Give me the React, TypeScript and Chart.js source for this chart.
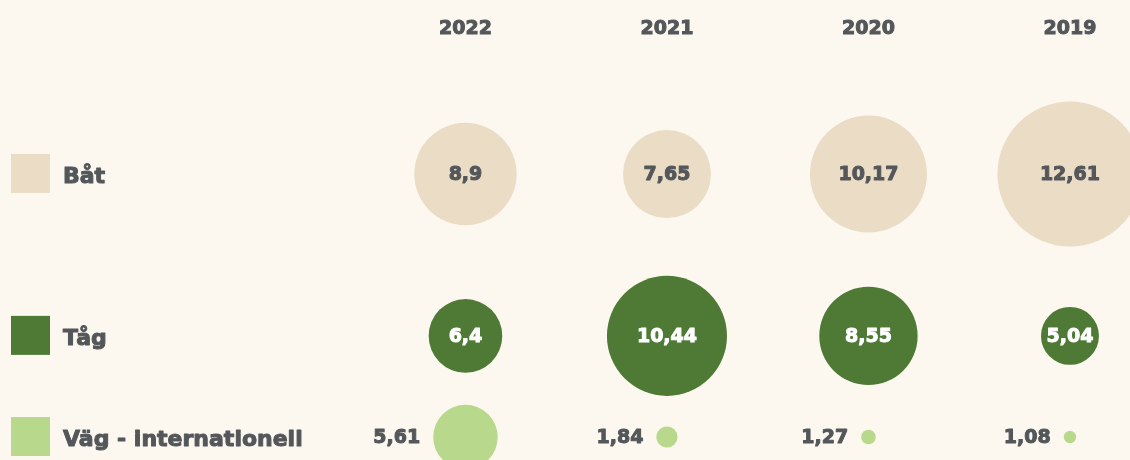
import React, { useEffect, useRef } from 'react';
import { Chart, registerables } from 'chart.js';

Chart.register(...registerables);

// ---- data ----
const years = ['2022', '2021', '2020', '2019'];
const rowLabels = ['Båt', 'Tåg', 'Väg - internationell'];
const batValues = [8.9, 7.65, 10.17, 12.61];
const tagValues = [6.4, 10.44, 8.55, 5.04];
const vagValues = [5.61, 1.84, 1.27, 1.08];

// ---- layout / style ----
const ROW_SLOTS = [0, 1.6, 2.6];
const RADIUS_PER_UNIT = 5.75;
const BG = '#fcf8f0';
const TEXT = '#54575a';
const COLORS = ['#eadcc5', '#4e7a35', '#b8d98b'];
const LABEL_COLORS = [TEXT, '#ffffff', TEXT];
const FONT_FAMILY = '"DejaVu Sans", sans-serif';

const fmt = (v: number) => String(v).replace('.', ',');

const bgPlugin = {
  id: 'bg',
  beforeDraw(chart: any) {
    const { ctx, width, height } = chart;
    ctx.save();
    ctx.fillStyle = BG;
    ctx.fillRect(0, 0, width, height);
    ctx.restore();
  },
};

const boldText = (ctx: any, text: string, x: number, y: number, color: string) => {
  ctx.fillStyle = color;
  ctx.strokeStyle = color;
  ctx.lineWidth = 1;
  ctx.lineJoin = 'round';
  ctx.strokeText(text, x, y);
  ctx.fillText(text, x, y);
};

const labelPlugin = {
  id: 'bubbleLabels',
  afterDatasetsDraw(chart: any) {
    const { ctx } = chart;
    ctx.save();
    ctx.font = `bold 19px ${FONT_FAMILY}`;
    ctx.textBaseline = 'middle';
    chart.data.datasets.forEach((ds: any, di: number) => {
      const meta = chart.getDatasetMeta(di);
      meta.data.forEach((el: any, i: number) => {
        const raw = ds.data[i];
        const text = fmt(raw.v);
        if (di === 2) {
          ctx.textAlign = 'right';
          boldText(ctx, text, el.x - raw.r - 13, el.y + 1, LABEL_COLORS[di]);
        } else {
          ctx.textAlign = 'center';
          boldText(ctx, text, el.x, el.y + 1, LABEL_COLORS[di]);
        }
      });
    });
    ctx.restore();
  },
};

const rowLegendPlugin = {
  id: 'rowLegend',
  afterDraw(chart: any) {
    const { ctx } = chart;
    const y = chart.scales.y;
    ctx.save();
    ctx.font = `bold 22px ${FONT_FAMILY}`;
    ctx.textBaseline = 'middle';
    ctx.textAlign = 'left';
    rowLabels.forEach((label, i) => {
      const py = y.getPixelForValue(ROW_SLOTS[i]);
      ctx.fillStyle = COLORS[i];
      ctx.fillRect(11, py - 20, 39, 39);
      boldText(ctx, label, 63, py + 3, TEXT);
    });
    ctx.restore();
  },
};

export default function App() {
  const ref = useRef<HTMLCanvasElement | null>(null);

  useEffect(() => {
    document.body.style.margin = '0';
    document.body.style.background = BG;
    if (!ref.current) return;
    const series = [batValues, tagValues, vagValues];
    const chart = new Chart(ref.current, {
      type: 'bubble',
      data: {
        datasets: series.map((vals, di) => ({
          label: rowLabels[di],
          data: vals.map((v, i) => ({ x: i, y: ROW_SLOTS[di], r: v * RADIUS_PER_UNIT, v })),
          backgroundColor: COLORS[di],
          borderWidth: 0,
          hoverBorderWidth: 0,
          clip: false as any,
        })),
      },
      options: {
        animation: false,
        responsive: true,
        maintainAspectRatio: false,
        events: [],
        layout: { padding: 0, autoPadding: false },
        plugins: {
          legend: { display: false },
          tooltip: { enabled: false },
        },
        scales: {
          x: {
            type: 'linear',
            position: 'top',
            min: -2.31,
            max: 3.298,
            grid: { display: false, drawTicks: false },
            border: { display: false },
            afterBuildTicks: (axis: any) => {
              axis.ticks = years.map((_, i) => ({ value: i }));
            },
            afterFit: (axis: any) => {
              axis.height = 50;
            },
            ticks: {
              autoSkip: false,
              maxRotation: 0,
              padding: 10,
              color: TEXT,
              textStrokeColor: TEXT,
              textStrokeWidth: 1,
              font: { family: FONT_FAMILY, size: 19, weight: 'bold' },
              callback: (v: any) => years[v] ?? '',
            },
          },
          y: {
            type: 'linear',
            display: false,
            reverse: true,
            min: -1.226,
            max: 2.827,
          },
        },
      },
      plugins: [bgPlugin, labelPlugin, rowLegendPlugin],
    });
    return () => chart.destroy();
  }, []);

  return (
    <div style={{ width: 1130, height: 460, position: 'relative', background: BG }}>
      <canvas ref={ref} />
    </div>
  );
}
